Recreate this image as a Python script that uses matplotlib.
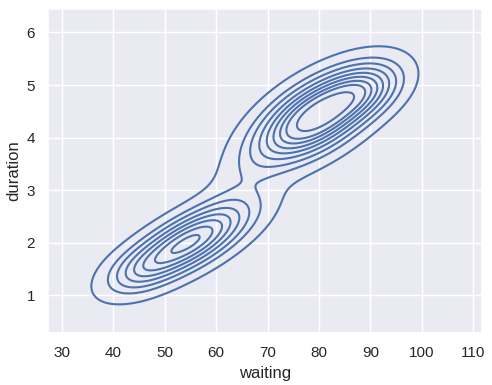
import numpy as np
import matplotlib
matplotlib.use("Agg")
import matplotlib.pyplot as plt
import seaborn as sns

# Approximate smoothed density of the geyser data as a Gaussian mixture
# (components)
comp_waiting_mean = [79.5, 89.0, 65.0, 54.5, 45.0]
comp_duration_mean = [4.4, 4.9, 3.25, 2.0, 1.45]
comp_waiting_sd = [7.5, 5.0, 6.0, 8.0, 4.5]
comp_duration_sd = [0.55, 0.35, 0.6, 0.5, 0.3]
comp_corr = [0.6, 0.4, 0.7, 0.72, 0.4]
comp_weight = [0.52, 0.08, 0.03, 0.34, 0.03]

x_range = [27.3, 111.75]
y_range = [0.28, 6.45]
iso_props = np.linspace(0.05, 1, 10)

sns.set_theme(style="darkgrid")
plt.rcParams["font.family"] = ["Liberation Sans", "DejaVu Sans"]
fig, ax = plt.subplots(figsize=(4.92, 3.85), dpi=100)

xx = np.linspace(x_range[0], x_range[1], 200)
yy = np.linspace(y_range[0], y_range[1], 200)
X, Y = np.meshgrid(xx, yy)
Z = np.zeros_like(X)
for mx, my, sx, sy, r, w in zip(comp_waiting_mean, comp_duration_mean, comp_waiting_sd,
                                comp_duration_sd, comp_corr, comp_weight):
    dx = (X - mx) / sx
    dy = (Y - my) / sy
    q = (dx**2 - 2 * r * dx * dy + dy**2) / (1 - r**2)
    Z += w * np.exp(-0.5 * q) / (2 * np.pi * sx * sy * np.sqrt(1 - r**2))

vals = np.sort(Z.ravel())[::-1]
cum = np.cumsum(vals) / vals.sum()
idx = np.searchsorted(cum, 1 - iso_props)
levels = np.unique(np.take(vals, idx, mode="clip"))

ax.contour(X, Y, Z, levels=levels, colors="#4c72b0", linewidths=1.5)
ax.set_xlim(x_range)
ax.set_ylim(y_range)
ax.set_xticks(np.arange(30, 111, 10))
ax.set_yticks(np.arange(1, 7, 1))
ax.set_xlabel("waiting")
ax.set_ylabel("duration")
fig.subplots_adjust(left=0.098, right=0.98, top=0.977, bottom=0.135)
fig.savefig("out.png", dpi=100)
